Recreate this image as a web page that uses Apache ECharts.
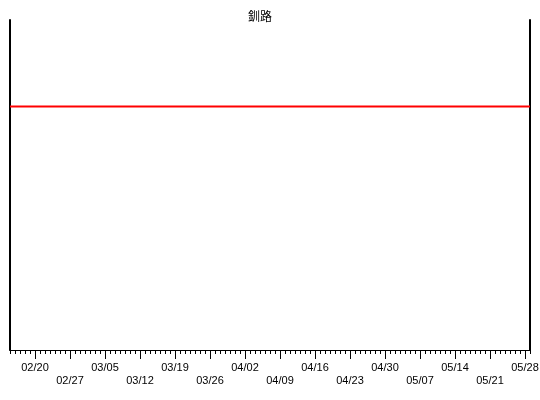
<!DOCTYPE html>
<html>
<head>
<meta charset="utf-8">
<script src="https://cdn.jsdelivr.net/npm/echarts@6/dist/echarts.min.js"></script>
<style>
  html, body { margin: 0; padding: 0; background: #fff; }
  #chart { width: 540px; height: 400px; }
</style>
</head>
<body>
<div id="chart"></div>
<script>
// x is counted in days from 02/15 (left edge) to 05/29 (right edge)
const firstDay = 0;
const lastDay = 104;
const weekLabels = ["02/20", "02/27", "03/05", "03/12", "03/19", "03/26", "04/02", "04/09",
  "04/16", "04/23", "04/30", "05/07", "05/14", "05/21", "05/28"];
const weekDays = [5, 12, 19, 26, 33, 40, 47, 54, 61, 68, 75, 82, 89, 96, 103];
const lineDays = [0, 104];
const lineValues = [73.8, 73.8];

const chartDom = document.getElementById("chart");
const myChart = echarts.init(chartDom);

const allDays = [];
for (let d = firstDay; d <= lastDay; d++) allDays.push(d);

const labelFor = (v) => {
  const i = weekDays.indexOf(Math.round(v));
  return i >= 0 ? weekLabels[i] : "";
};

const labelFont = { color: "#000", fontSize: 11, fontFamily: "Liberation Sans" };

const option = {
  animation: false,
  title: {
    text: "釧路",
    left: 248,
    top: 10,
    padding: 0,
    textStyle: { fontSize: 12, fontWeight: "normal", color: "#000", fontFamily: "Noto Sans CJK JP" },
  },
  grid: { left: 10, right: 10, top: 20, bottom: 50, outerBoundsMode: "none", containLabel: false },
  xAxis: [
    {
      type: "value",
      position: "bottom",
      min: firstDay,
      max: lastDay,
      axisLine: { show: true, onZero: false, lineStyle: { color: "#000", width: 1 } },
      axisTick: { show: true, length: 9, customValues: weekDays, lineStyle: { color: "#000" } },
      axisLabel: {
        show: true,
        margin: 12,
        customValues: weekDays.filter((d, i) => i % 2 === 0),
        formatter: labelFor,
        ...labelFont,
      },
      splitLine: { show: false },
    },
    {
      type: "value",
      position: "bottom",
      min: firstDay,
      max: lastDay,
      axisLine: { show: false, onZero: false },
      axisTick: { show: true, length: 4, customValues: allDays, lineStyle: { color: "#000" } },
      axisLabel: {
        show: true,
        margin: 25,
        customValues: weekDays.filter((d, i) => i % 2 === 1),
        formatter: labelFor,
        ...labelFont,
      },
      splitLine: { show: false },
    },
  ],
  yAxis: [
    {
      type: "value",
      position: "left",
      min: 0,
      max: 100,
      axisLine: { show: true, onZero: false, lineStyle: { color: "#000", width: 2 } },
      axisTick: { show: false },
      axisLabel: { show: false },
      splitLine: { show: false },
    },
    {
      type: "value",
      position: "right",
      min: 0,
      max: 100,
      axisLine: { show: true, onZero: false, lineStyle: { color: "#000", width: 2 } },
      axisTick: { show: false },
      axisLabel: { show: false },
      splitLine: { show: false },
    },
  ],
  series: [
    {
      type: "line",
      xAxisIndex: 0,
      yAxisIndex: 0,
      symbol: "none",
      lineStyle: { color: "#ff0000", width: 2 },
      data: lineDays.map((d, i) => [d, lineValues[i]]),
    },
  ],
};

myChart.setOption(option);
</script>
</body>
</html>
